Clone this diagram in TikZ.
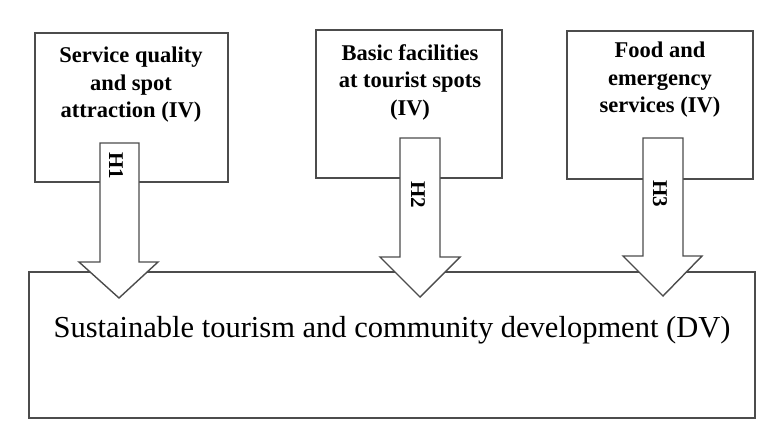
\documentclass[tikz,border=0pt]{standalone}
\usepackage{fontspec}
\setmainfont{Liberation Serif}
\begin{document}
\begin{tikzpicture}[x=1pt,y=-1pt,
  line/.style={draw=black!70,line width=1.4pt},
  ivbox/.style={line,fill=white,inner sep=0pt},
  ivtext/.style={font=\fontsize{22.5}{27.5}\selectfont\bfseries,align=center},
  dvtext/.style={font=\fontsize{30.5}{34}\selectfont},
  fatarrow/.style={line,fill=white,line join=miter},
  hlabel/.style={font=\fontsize{21}{22}\selectfont\bfseries,rotate=-90}
]
\useasboundingbox (0,0) rectangle (782,437);
% independent variable boxes
\draw[ivbox] (35,33) rectangle (228,182);
\draw[ivbox] (316,30) rectangle (502,178);
\draw[ivbox] (567,31) rectangle (753,179);
% dependent variable box
\draw[ivbox] (29,272) rectangle (755,418);
\coordinate (b1) at (131,85);
\coordinate (b2) at (410,82);
\coordinate (b3) at (660,80);
\node[ivtext] (t1) at (b1) {Service quality\\and spot\\attraction (IV)};
\node[ivtext] (t2) at (b2) {Basic facilities\\at tourist spots\\(IV)};
\node[ivtext] (t3) at (b3) {Food and\\emergency\\services (IV)};
\node[dvtext] (dv) at (392,330) {Sustainable tourism and community development (DV)};
% block arrows
\draw[fatarrow] (100,143) -- (139,143) -- (139,262) -- (158,262) -- (119,298) -- (79,262) -- (100,262) -- cycle;
\draw[fatarrow] (400,138) -- (440,138) -- (440,257) -- (460,257) -- (420,297) -- (380,257) -- (400,257) -- cycle;
\draw[fatarrow] (643,138) -- (683,138) -- (683,256) -- (702,256) -- (663,296) -- (623,256) -- (643,256) -- cycle;
\node[hlabel] (h1) at (116,166) {H1};
\node[hlabel] (h2) at (418,195) {H2};
\node[hlabel] (h3) at (660,194) {H3};
\end{tikzpicture}
\end{document}
